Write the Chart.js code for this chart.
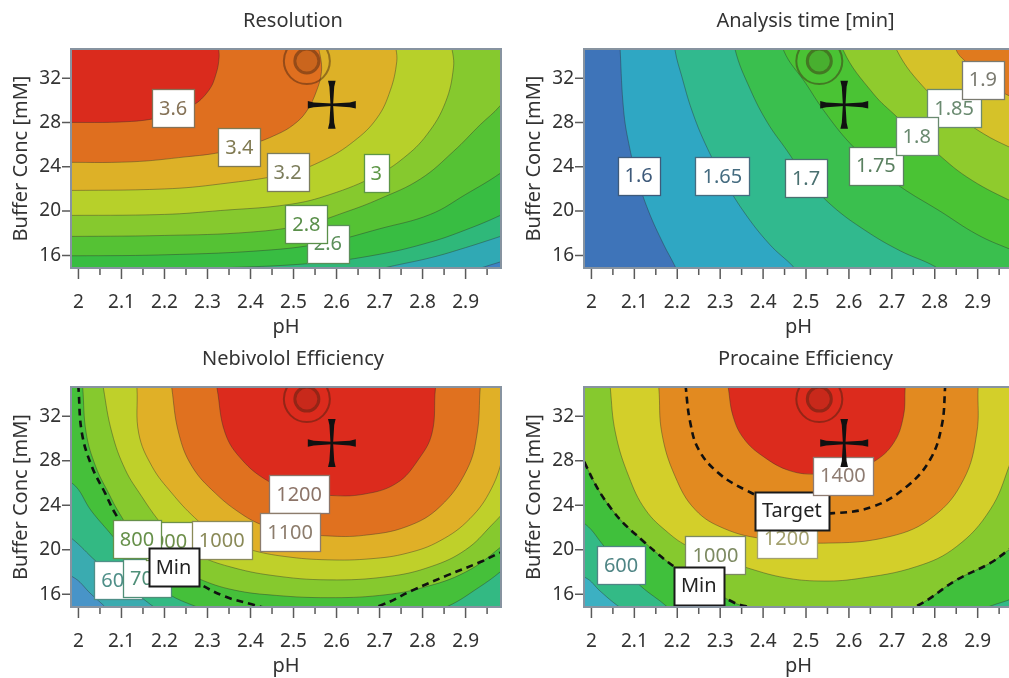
<!DOCTYPE html>
<html>
<head>
<meta charset="utf-8">
<title>Contour profiler</title>
<script src="https://cdn.jsdelivr.net/npm/chart.js@4.4.1/dist/chart.umd.min.js"></script>
<style>
  html, body { margin: 0; padding: 0; background: #fff; overflow: hidden; }
  #stage { position: relative; width: 1009px; height: 678px; overflow: hidden; }
  #stage canvas { position: absolute; }
</style>
</head>
<body>
<div id="stage">
  <canvas id="resolution" width="510" height="340" style="left:0;top:0"></canvas>
  <canvas id="analysis" width="510" height="340" style="left:512px;top:0"></canvas>
  <canvas id="nebivolol" width="510" height="338" style="left:0;top:340px"></canvas>
  <canvas id="procaine" width="510" height="338" style="left:512px;top:340px"></canvas>
</div>
<script>
// axes (shared by all four plots)
const phTicks = [2, 2.1, 2.2, 2.3, 2.4, 2.5, 2.6, 2.7, 2.8, 2.9];
const phMinorTicks = [2.05, 2.15, 2.25, 2.35, 2.45, 2.55, 2.65, 2.75, 2.85, 2.95];
const concTicks = [16, 20, 24, 28, 32];
const phRange = [1.985, 2.98];
const concRange = [14.95, 34.55];

// markers: optimum (rings) and current setting (cross)
const optimumPoint = [2.531, 33.55];
const currentPoint = [2.589, 29.6];

// --- Resolution: contour lines [pH, mM], lowest level first
const resLevels = [2.0, 2.2, 2.4, 2.6, 2.8, 3.0, 3.2, 3.4, 3.6];
const resContours = [
  [[2.86, 14.0], [2.93, 14.8], [2.98, 15.4], [3.05, 16.2]],
  [[2.62, 14.0], [2.72, 14.95], [2.82, 15.8], [2.90, 16.7], [2.98, 17.7], [3.05, 18.6]],
  [[1.95, 14.6], [2.3, 14.85], [2.55, 15.3], [2.70, 16.1], [2.818, 17.2], [2.90, 18.3], [2.98, 19.6], [3.05, 21.0]],
  [[1.95, 15.95], [2.2, 16.05], [2.45, 16.5], [2.58, 17.2], [2.70, 18.4], [2.818, 19.7], [2.90, 21.5], [2.98, 23.4], [3.05, 25.5]],
  [[1.95, 17.7], [2.2, 17.8], [2.40, 18.1], [2.53, 18.8], [2.62, 19.9], [2.70, 21.1], [2.795, 22.9], [2.872, 25.4], [2.934, 27.8], [2.98, 29.5], [3.05, 33.0]],
  [[1.95, 19.6], [2.2, 19.7], [2.33, 20.05], [2.49, 20.6], [2.585, 21.5], [2.692, 23.2], [2.756, 24.8], [2.81, 26.9], [2.853, 29.8], [2.872, 33.0], [2.876, 37.0]],
  [[1.95, 21.85], [2.2, 22.0], [2.33, 22.45], [2.486, 23.4], [2.57, 24.6], [2.64, 26.3], [2.694, 28.4], [2.725, 30.9], [2.74, 33.5], [2.745, 37.0]],
  [[1.95, 24.4], [2.124, 24.45], [2.25, 24.9], [2.33, 25.3], [2.40, 26.0], [2.46, 26.9], [2.50, 27.8], [2.53, 29.0], [2.553, 30.8], [2.565, 32.6], [2.57, 37.0]],
  [[1.95, 28.0], [2.124, 28.1], [2.202, 28.6], [2.264, 29.5], [2.303, 30.9], [2.32, 32.4], [2.327, 33.9], [2.33, 37.0]]
];
const resLabels = [['2.6', 2.58, 17.05], ['2.8', 2.53, 18.85], ['3.6', 2.22, 29.3], ['3.4', 2.374, 25.8], ['3.2', 2.486, 23.5], ['3', 2.692, 23.4]];

// --- Analysis time [min]
const timeLevels = [1.6, 1.65, 1.7, 1.75, 1.8, 1.85, 1.9];
const timeContours = [
  [[2.065, 37], [2.067, 34.5], [2.075, 29.1], [2.087, 26.1], [2.106, 23.1], [2.133, 20.0], [2.168, 17.0], [2.195, 15.0], [2.205, 14.0]],
  [[2.19, 37], [2.195, 34.5], [2.211, 32.1], [2.234, 29.1], [2.265, 26.1], [2.305, 23.1], [2.354, 20.0], [2.415, 17.0], [2.47, 15.0], [2.49, 14.0]],
  [[2.33, 37], [2.335, 34.55], [2.37, 31.0], [2.41, 28.0], [2.455, 25.5], [2.50, 23.0], [2.56, 20.5], [2.64, 18.2], [2.72, 16.4], [2.80, 15.0], [2.83, 14.0]],
  [[2.44, 37], [2.448, 34.5], [2.50, 31.5], [2.541, 29.1], [2.603, 26.1], [2.663, 24.0], [2.72, 22.2], [2.812, 20.0], [2.898, 17.9], [2.973, 16.6], [3.05, 15.5]],
  [[2.58, 37], [2.587, 34.5], [2.657, 30.6], [2.712, 28.5], [2.758, 26.8], [2.797, 25.5], [2.874, 23.1], [2.973, 21.0], [3.05, 19.8]],
  [[2.70, 37], [2.712, 34.5], [2.781, 30.9], [2.843, 28.9], [2.913, 27.0], [2.973, 25.8], [3.05, 24.5]],
  [[2.84, 37], [2.85, 34.55], [2.88, 33.2], [2.912, 31.9], [2.95, 30.9], [2.98, 30.3], [3.05, 29.2]]
];
const timeLabels = [['1.6', 2.11, 23.2], ['1.65', 2.305, 23.15], ['1.7', 2.50, 23.0], ['1.85', 2.845, 29.3], ['1.9', 2.912, 31.86], ['1.75', 2.663, 24.1], ['1.8', 2.758, 26.74]];

// --- Nebivolol Efficiency
const nebLevels = [500, 600, 700, 800, 900, 1000, 1100, 1200];
const nebContours = [
  [[1.88, 37], [1.88, 19.0], [1.985, 17.6], [2.03, 16.0], [2.06, 14.95], [2.08, 14.2], [2.2, 13.0], [3.3, 13.0], [3.3, 37]],
  [[1.88, 37], [1.88, 24.0], [1.985, 21.0], [2.04, 19.0], [2.093, 17.25], [2.15, 15.6], [2.19, 14.6], [2.3, 13.5], [2.6, 13.0], [2.9, 13.5], [3.05, 14.5], [3.2, 20], [3.2, 37]],
  [[1.88, 37], [1.88, 28.0], [1.985, 26.0], [2.03, 23.5], [2.08, 21.2], [2.12, 19.2], [2.16, 17.43], [2.21, 16.0], [2.27, 14.95], [2.35, 13.9], [2.58, 13.4], [2.78, 13.9], [2.86, 14.95], [2.93, 16.6], [2.98, 18.0], [3.1, 22.0], [3.2, 37]],
  [[2.005, 37], [2.01, 34.55], [2.018, 30.5], [2.04, 27.5], [2.07, 25.1], [2.095, 23.3], [2.136, 21.0], [2.2, 19.0], [2.28, 17.4], [2.36, 16.4], [2.46, 15.9], [2.58, 15.7], [2.70, 15.9], [2.80, 16.6], [2.90, 18.0], [2.98, 20.2], [3.06, 23.0], [3.12, 28.0], [3.15, 34.55], [3.16, 37]],
  [[2.05, 37], [2.058, 34.55], [2.078, 30.5], [2.109, 27.2], [2.147, 24.8], [2.185, 22.7], [2.225, 20.9], [2.28, 19.5], [2.35, 18.5], [2.45, 17.7], [2.58, 17.3], [2.72, 17.6], [2.82, 18.5], [2.90, 20.0], [2.96, 22.2], [3.0, 24.0], [3.06, 28.0], [3.09, 32.0], [3.1, 37]],
  [[2.13, 37], [2.136, 34.55], [2.14, 30.5], [2.171, 27.5], [2.217, 25.1], [2.27, 22.9], [2.333, 20.9], [2.40, 20.0], [2.48, 19.4], [2.58, 19.1], [2.68, 19.2], [2.764, 19.7], [2.84, 20.8], [2.91, 22.8], [2.96, 25.5], [2.99, 28.8], [3.01, 32.0], [3.016, 34.55], [3.02, 37]],
  [[2.21, 37], [2.217, 34.55], [2.233, 30.5], [2.264, 27.5], [2.318, 25.1], [2.38, 23.2], [2.43, 22.2], [2.492, 21.6], [2.58, 21.25], [2.663, 21.3], [2.764, 22.1], [2.841, 23.9], [2.903, 27.2], [2.927, 30.5], [2.934, 34.55], [2.94, 37]],
  [[2.31, 37], [2.322, 34.55], [2.341, 30.5], [2.38, 28.1], [2.44, 26.2], [2.50, 25.3], [2.58, 24.9], [2.663, 25.0], [2.74, 26.0], [2.79, 28.1], [2.822, 30.5], [2.83, 34.55], [2.84, 37]]
];
const nebMin = [[1.995, 37], [2.0, 34.55], [2.008, 30.5], [2.031, 27.5], [2.062, 25.1], [2.085, 23.3], [2.12, 21.3], [2.19, 19.2], [2.279, 17.0], [2.341, 15.8], [2.403, 15.1], [2.445, 14.7], [2.50, 14.45], [2.57, 14.35], [2.64, 14.5], [2.702, 15.0], [2.779, 16.4], [2.857, 17.7], [2.934, 18.9], [2.98, 19.75], [3.05, 21.0], [3.12, 24.0]];
const nebLabels = [['600', 2.093, 17.25], ['700', 2.16, 17.43], ['900', 2.213, 20.8], ['800', 2.136, 20.96], ['1000', 2.333, 20.86], ['1200', 2.513, 24.98], ['1100', 2.492, 21.56], ['Min', 2.221, 18.42]];

// --- Procaine Efficiency
const proLevels = [400, 600, 800, 1000, 1200, 1400];
const proMin = [[1.88, 37], [1.93, 34.55], [1.96, 31.0], [1.986, 27.7], [2.048, 23.6], [2.126, 20.6], [2.203, 18.2], [2.27, 16.6], [2.335, 15.2], [2.358, 14.95], [2.42, 14.3], [2.55, 13.9], [2.69, 14.3], [2.758, 14.95], [2.851, 17.3], [2.929, 18.8], [2.973, 20.0], [3.05, 22.0], [3.15, 28.0], [3.2, 37]];
const proTarget = [[2.215, 37], [2.22, 34.55], [2.23, 31.5], [2.25, 29.0], [2.296, 26.9], [2.358, 25.4], [2.43, 24.2], [2.50, 23.5], [2.564, 23.3], [2.657, 23.9], [2.735, 25.7], [2.789, 28.1], [2.816, 31.1], [2.824, 34.55], [2.826, 37]];
const proContours = [
  [[1.88, 37], [1.88, 19.0], [1.986, 17.5], [2.02, 16.3], [2.05, 15.3], [2.07, 14.7], [2.1, 13.5], [3.3, 13.0], [3.3, 37]],
  [[1.88, 37], [1.88, 25.0], [1.986, 22.3], [2.03, 20.3], [2.069, 18.6], [2.11, 16.9], [2.16, 15.4], [2.19, 14.6], [2.3, 13.5], [2.6, 13.0], [2.85, 13.8], [2.93, 14.95], [2.98, 15.6], [3.05, 16.8], [3.2, 37]],
  proMin,
  [[2.04, 37], [2.044, 34.55], [2.056, 30.5], [2.087, 26.6], [2.126, 23.6], [2.18, 21.5], [2.226, 20.3], [2.289, 19.4], [2.37, 18.3], [2.45, 17.5], [2.53, 17.2], [2.619, 17.4], [2.758, 18.5], [2.851, 20.3], [2.929, 23.6], [2.973, 27.5], [3.0, 31.0], [3.02, 37]],
  [[2.15, 37], [2.157, 34.55], [2.164, 30.5], [2.195, 26.6], [2.242, 23.6], [2.31, 21.9], [2.40, 21.0], [2.541, 20.6], [2.696, 21.2], [2.797, 23.0], [2.867, 26.3], [2.898, 30.5], [2.901, 34.55], [2.905, 37]],
  [[2.31, 37], [2.319, 34.55], [2.33, 32.0], [2.355, 30.0], [2.40, 28.4], [2.463, 27.1], [2.53, 26.8], [2.60, 27.1], [2.657, 27.9], [2.704, 29.6], [2.727, 32.0], [2.731, 34.55], [2.735, 37]]
];
const proLabels = [['600', 2.069, 18.6], ['1000', 2.289, 19.5], ['1200', 2.455, 21.0], ['Target', 2.467, 23.51], ['1400', 2.586, 26.67], ['Min', 2.25, 16.77]];

// ---------- styling ----------
const FONT = '"Noto Sans", "Open Sans", sans-serif';
const INK = '#333';

const panels = [
  {
    canvas: 'resolution', title: 'Resolution', top: 50, yAxisWidth: 72, xAxisHeight: 73,
    contours: resContours, dashed: [], labels: resLabels,
    closure: [[3.2, 39], [1.8, 39], [1.8, 10]],
    colors: ['#3f82c4', '#30a9b4', '#2fb87a', '#38bd42', '#55c234', '#86c92e', '#b7d02a', '#ddb127', '#df6f1f', '#da2b1d'],
    inks: ['#5b8f5a', '#5a8f4a', '#857257', '#807a52', '#7c7d5c', '#5d9646']
  },
  {
    canvas: 'analysis', title: 'Analysis time [min]', top: 50, yAxisWidth: 73, xAxisHeight: 73,
    contours: timeContours, dashed: [], labels: timeLabels,
    closure: [[3.2, 10], [3.3, 39], [2.0, 39]],
    colors: ['#3e74b9', '#2fa7c3', '#31b98e', '#3abf4e', '#4ac334', '#8fcb2d', '#d5c229', '#e07a1e'],
    inks: ['#3e5a7a', '#456c80', '#4a7070', '#6a8a70', '#7a7a70', '#5a8060', '#6a8a70']
  },
  {
    canvas: 'nebivolol', title: 'Nebivolol Efficiency', top: 48, yAxisWidth: 72, xAxisHeight: 72,
    contours: nebContours, dashed: [nebMin], labels: nebLabels,
    closure: [[3.3, 39], [1.8, 39]],
    colors: ['#4894c8', '#3aabb0', '#33b983', '#45c03a', '#86c92e', '#bfd02a', '#e0b027', '#e0711f', '#dc2b1d'],
    inks: ['#4f8f88', '#4f8f78', '#6d8f4a', '#66904a', '#8a8a58', '#8c7468', '#8c7c6c', null]
  },
  {
    canvas: 'procaine', title: 'Procaine Efficiency', top: 48, yAxisWidth: 73, xAxisHeight: 72,
    contours: proContours, dashed: [proMin, proTarget], labels: proLabels,
    closure: [[3.3, 39], [1.8, 39]],
    colors: ['#3cb0c2', '#33ba86', '#40c03c', '#86c92e', '#d3cf2a', '#e28a20', '#dc2b1d'],
    inks: ['#4f8585', '#7d8a62', '#a3a06e', null, '#8e7c72', null]
  }
];

function toPoints(list) {
  return list.map(p => ({ x: p[0], y: p[1] }));
}

function drawTag(ctx, text, cx, cy, ink) {
  const strong = !ink;
  ctx.font = '20px ' + FONT;
  const w = Math.round(ctx.measureText(text).width + 14);
  const h = 38;
  const x0 = Math.round(cx - w / 2) + 0.5;
  const y0 = Math.round(cy - h / 2) + 0.5;
  ctx.fillStyle = '#fff';
  ctx.fillRect(x0, y0, w, h);
  ctx.lineWidth = strong ? 2 : 1.3;
  ctx.strokeStyle = strong ? '#1a1a1a' : ink;
  ctx.strokeRect(x0, y0, w, h);
  ctx.fillStyle = strong ? '#222' : ink;
  ctx.textAlign = 'center';
  ctx.textBaseline = 'middle';
  ctx.fillText(text, cx, cy + 1);
}

function drawOptimum(ctx, cx, cy) {
  ctx.strokeStyle = 'rgba(60,30,15,0.45)';
  ctx.lineWidth = 2;
  ctx.beginPath();
  ctx.arc(cx, cy, 23, 0, Math.PI * 2);
  ctx.stroke();
  ctx.lineWidth = 3;
  ctx.beginPath();
  ctx.arc(cx, cy, 12, 0, Math.PI * 2);
  ctx.stroke();
  ctx.fillStyle = 'rgba(60,30,15,0.12)';
  ctx.beginPath();
  ctx.arc(cx, cy, 10.5, 0, Math.PI * 2);
  ctx.fill();
}

function drawCross(ctx, cx, cy) {
  ctx.fillStyle = '#111';
  for (let k = 0; k < 4; k++) {
    ctx.save();
    ctx.translate(cx, cy);
    ctx.rotate(k * Math.PI / 2);
    ctx.beginPath();
    ctx.moveTo(0, -1.3);
    ctx.lineTo(18, -2.4);
    ctx.lineTo(24, -3.8);
    ctx.lineTo(24, 3.8);
    ctx.lineTo(18, 2.4);
    ctx.lineTo(0, 1.3);
    ctx.closePath();
    ctx.fill();
    ctx.restore();
  }
}

function makeOverlay(panel) {
  return {
    id: 'overlay',
    beforeDatasetsDraw(chart) {
      const { ctx, chartArea: a } = chart;
      ctx.save();
      ctx.fillStyle = panel.colors[0];
      ctx.fillRect(a.left, a.top, a.right - a.left, a.bottom - a.top);
      ctx.restore();
    },
    afterDatasetsDraw(chart) {
      const { ctx, chartArea: a, scales } = chart;
      const sx = v => scales.x.getPixelForValue(v);
      const sy = v => scales.y.getPixelForValue(v);
      ctx.save();
      ctx.beginPath();
      ctx.rect(a.left, a.top, a.right - a.left, a.bottom - a.top);
      ctx.clip();
      panel.labels.forEach((lab, i) => drawTag(ctx, lab[0], sx(lab[1]), sy(lab[2]), panel.inks[i]));
      drawOptimum(ctx, sx(optimumPoint[0]), sy(optimumPoint[1]));
      drawCross(ctx, sx(currentPoint[0]), sy(currentPoint[1]));
      ctx.restore();
    },
    afterDraw(chart) {
      const { ctx, chartArea: a, scales } = chart;
      const sx = v => scales.x.getPixelForValue(v);
      const sy = v => scales.y.getPixelForValue(v);
      ctx.save();
      // frame
      ctx.strokeStyle = '#8793a0';
      ctx.lineWidth = 2;
      ctx.strokeRect(a.left - 1, a.top - 1, a.right - a.left + 2, a.bottom - a.top + 2);
      // tick marks
      ctx.strokeStyle = '#5a5a5a';
      ctx.lineWidth = 1.5;
      ctx.beginPath();
      phTicks.forEach(v => { const x = sx(v); ctx.moveTo(x, a.bottom + 2); ctx.lineTo(x, a.bottom + 12); });
      phMinorTicks.forEach(v => { const x = sx(v); ctx.moveTo(x, a.bottom + 2); ctx.lineTo(x, a.bottom + 8); });
      concTicks.forEach(v => { const y = sy(v); ctx.moveTo(a.left - 10, y); ctx.lineTo(a.left - 2, y); });
      ctx.stroke();
      // titles
      ctx.fillStyle = INK;
      ctx.font = '20px ' + FONT;
      ctx.textAlign = 'center';
      ctx.textBaseline = 'middle';
      const midX = (a.left + a.right) / 2;
      ctx.fillText(panel.title, midX + 7, a.top - 29);
      ctx.fillText('pH', midX, a.bottom + 60);
      ctx.translate(a.left - 51, (a.top + a.bottom) / 2);
      ctx.rotate(-Math.PI / 2);
      ctx.fillText('Buffer Conc [mM]', 0, 0);
      ctx.restore();
    }
  };
}

function buildPanel(panel) {
  const datasets = panel.contours.map((line, i) => ({
    data: toPoints(line.concat(panel.closure)),
    backgroundColor: panel.colors[i + 1],
    borderColor: 'rgba(45,45,45,0.4)',
    borderWidth: 1,
    fill: 'shape',
    order: 100 - i,
    clip: 0
  }));
  panel.dashed.forEach(line => {
    datasets.push({
      data: toPoints(line),
      borderColor: '#111',
      borderWidth: 2.6,
      borderDash: [7, 5],
      fill: false,
      order: 0,
      clip: 0
    });
  });

  const tickFont = { family: FONT, size: 19 };

  return new Chart(document.getElementById(panel.canvas), {
    type: 'line',
    data: { datasets },
    options: {
      responsive: false,
      animation: false,
      events: [],
      layout: { padding: { top: panel.top, right: 10, bottom: 0, left: 0 } },
      elements: {
        point: { radius: 0, hitRadius: 0 },
        line: { tension: 0.4, capBezierPoints: false }
      },
      plugins: {
        legend: { display: false },
        tooltip: { enabled: false },
        title: { display: false }
      },
      scales: {
        x: {
          type: 'linear',
          min: phRange[0],
          max: phRange[1],
          afterBuildTicks: s => { s.ticks = phTicks.map(v => ({ value: v })); },
          afterFit: s => { s.height = panel.xAxisHeight; },
          grid: { display: false, drawTicks: true, tickLength: 8 },
          border: { display: false },
          ticks: { autoSkip: false, maxRotation: 0, padding: 16, color: INK, font: tickFont, callback: v => String(v) }
        },
        y: {
          type: 'linear',
          min: concRange[0],
          max: concRange[1],
          afterBuildTicks: s => { s.ticks = concTicks.map(v => ({ value: v })); },
          afterFit: s => { s.width = panel.yAxisWidth; },
          grid: { display: false, drawTicks: true, tickLength: 8 },
          border: { display: false },
          ticks: { padding: 3, color: INK, font: tickFont, callback: v => String(v) }
        }
      }
    },
    plugins: [makeOverlay(panel)]
  });
}

panels.forEach(buildPanel);
</script>
</body>
</html>
